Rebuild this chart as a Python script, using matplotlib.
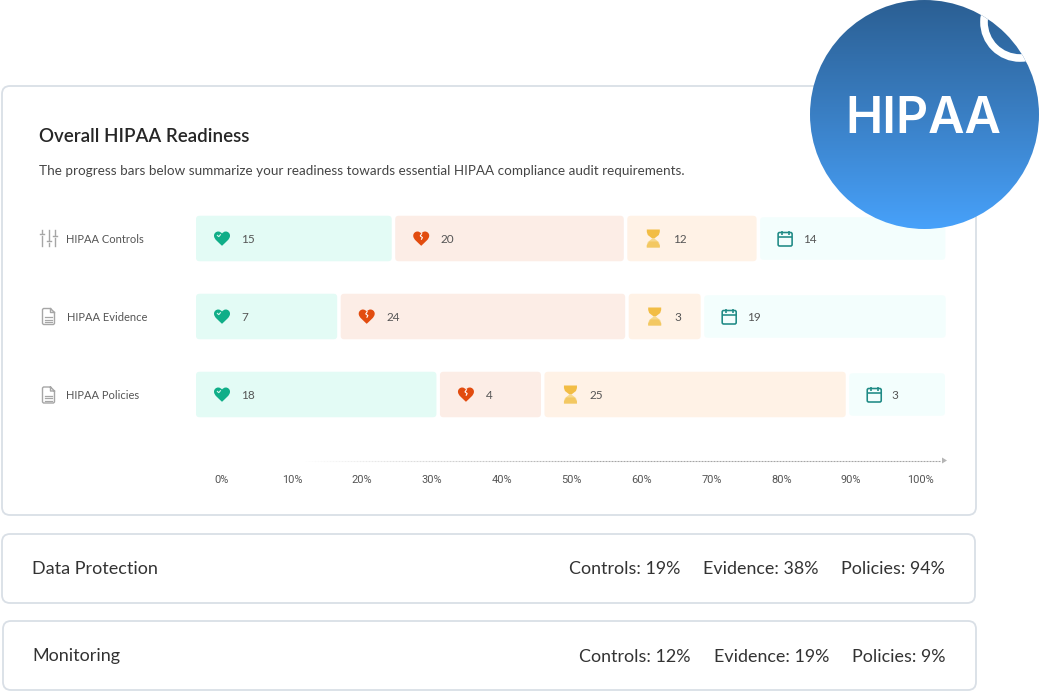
import numpy as np
import matplotlib
matplotlib.use("Agg")
import matplotlib.pyplot as plt
from matplotlib.patches import FancyBboxPatch, PathPatch, Circle
from matplotlib.path import Path
from matplotlib.transforms import Affine2D, ScaledTranslation
from matplotlib.colors import LinearSegmentedColormap

plt.rcParams["font.family"] = ["Lato", "DejaVu Sans"]

# ---- data ----
categories = ["HIPAA Controls", "HIPAA Evidence", "HIPAA Policies"]
counts_healthy = [15, 7, 18]
counts_broken = [20, 24, 4]
counts_pending = [12, 3, 25]
counts_scheduled = [14, 19, 3]
# Segment lengths as drawn, in axis percent units
widths_healthy = [28.0, 20.2, 34.4]
widths_broken = [32.7, 40.7, 14.45]
widths_pending = [18.5, 10.3, 43.1]
widths_scheduled = [26.5, 34.55, 13.7]
x_ticks = [0, 10, 20, 30, 40, 50, 60, 70, 80, 90, 100]
x_tick_labels = [f"{t}%" for t in x_ticks]
summary_names = ["Data Protection", "Monitoring"]
summary_controls = [19, 12]
summary_evidence = [38, 19]
summary_policies = [94, 9]

W, H = 1039, 691
fig = plt.figure(figsize=(W / 100, H / 100), dpi=100, facecolor="white")

# ---- background layer in pixel coordinates ----
bg = fig.add_axes([0, 0, 1, 1], zorder=0)
bg.set_xlim(0, W); bg.set_ylim(H, 0); bg.axis("off")

CARD_EDGE = "#d9dfe6"
def card(x0, y0, x1, y1):
    bg.add_patch(FancyBboxPatch((x0, y0), x1 - x0, y1 - y0,
                                boxstyle="round,pad=0,rounding_size=8",
                                fc="white", ec=CARD_EDGE, lw=1.3))
card(2, 86, 976, 515)
card(2, 534, 975, 603)
card(3, 621, 976, 690)

bg.text(39, 136, "Overall HIPAA Readiness", fontsize=13.5, color="#262626",
        va="center", ha="left", fontweight="semibold")
bg.text(39, 170.5, "The progress bars below summarize your readiness towards "
        "essential HIPAA compliance audit requirements.",
        fontsize=9.73, color="#454545", va="center", ha="left")

DARK = "#333333"
rows = [
    (31.5, 569, 703, 841, 574.5),
    (32.5, 579, 714, 852, 661.5),
]
for i, (xn, xc, xe, xp, yb) in enumerate(rows):
    bg.text(xn, yb, summary_names[i], fontsize=13.0, color=DARK, va="baseline")
    bg.text(xc, yb, f"Controls: {summary_controls[i]}%", fontsize=12.9, color=DARK, va="baseline")
    bg.text(xe, yb, f"Evidence: {summary_evidence[i]}%", fontsize=12.9, color=DARK, va="baseline")
    bg.text(xp, yb, f"Policies: {summary_policies[i]}%", fontsize=12.9, color=DARK, va="baseline")

# fading dotted arrow
xs = np.arange(305, 943, 3.0)
for a, b in zip(xs[:-1], xs[1:]):
    alpha = min(1.0, (a - 300) / 300)
    bg.plot([a, a + 1.5], [460.5, 460.5], color="#a5a5a5", lw=0.8, alpha=alpha,
            solid_capstyle="butt")
bg.add_patch(plt.Polygon([[942, 457.5], [947, 460.5], [942, 463.5]], fc="#b5b5b5", ec="none"))

# ---- main chart axes: 0% at x=222 px, 100% at x=921 px ----
L, R, T, B = 222, 921, 200, 461
ax = fig.add_axes([L / W, 1 - B / H, (R - L) / W, (B - T) / H], zorder=1)
ax.patch.set_alpha(0)
PX_X = (R - L) / 100
ROW_PX = 78
ax.set_xlim(0, 100)
ax.set_ylim((B - 238.5) / ROW_PX, (T - 238.5) / ROW_PX)
for s in ax.spines.values():
    s.set_visible(False)
ax.set_xticks(x_ticks, x_tick_labels, fontsize=7.9, color="#555555", family="Roboto")
ax.tick_params(axis="x", length=0, pad=10.2)
ax.set_yticks(range(len(categories)), categories, fontsize=8.05, color="#555555", ha="left")
ax.tick_params(axis="y", length=0, pad=(L - 66) * 0.72)
lab = ax.get_yticklabels()[1]
lab.set_transform(lab.get_transform() + ScaledTranslation(1 / 100, 0, fig.dpi_scale_trans))

START = (196 - L) / PX_X
GAP = 3.5 / PX_X
RADIUS = 3.5 / PX_X


def heart_path():
    v = [(0, -7.3), (-3, -4.2), (-8, -1), (-8, 2.8), (-8, 5.6), (-5.6, 7), (-3.9, 7),
         (-2.1, 7), (-0.8, 6), (0, 5), (0.8, 6), (2.1, 7), (3.9, 7),
         (5.6, 7), (8, 5.6), (8, 2.8), (8, -1), (3, -4.2), (0, -7.3)]
    c = [Path.MOVETO] + [Path.CURVE4] * 18
    return Path(v, c)


def place(x, row, off):
    px, py = ax.transData.transform((x, row))
    return Affine2D().translate(px + off, py)


def add(path, tr, **kw):
    kw.setdefault("lw", 0)
    ax.add_patch(PathPatch(path, transform=tr, clip_on=False, zorder=4, **kw))


def icon_heart(x, row, off):
    tr = place(x, row, off)
    add(heart_path(), tr, fc="#10ae88", ec="none")
    add(Path([(-5, 3.5), (-3.3, 1.8), (-1.2, 4.2)]), tr, fc="none", ec="#d8f5ec", lw=0.8)


def icon_broken(x, row, off):
    tr = place(x, row, off)
    add(heart_path(), tr, fc="#e24c0f", ec="none")
    add(Path([(0.8, 5.2), (-1.0, 2.6), (1.2, 1.0), (0, -1.2)]), tr, fc="none", ec="white", lw=0.8)


def icon_glass(x, row, off):
    tr = place(x, row, off)
    top = Path([(-6.5, 9), (6.5, 9), (6.5, 6.5), (5.5, 3.5), (1, 0), (-1, 0), (-5.5, 3.5), (-6.5, 6.5), (-6.5, 9)])
    bot = Path([(-6.5, -9), (6.5, -9), (6.5, -6.5), (5.5, -3.5), (1, 0), (-1, 0), (-5.5, -3.5), (-6.5, -6.5), (-6.5, -9)])
    add(top, tr, fc="#f2bd45", ec="none")
    add(bot, tr, fc="#f6d88c", ec="none")
    add(Path([(-6.5, -7), (-4, -3), (4, -3), (6.5, -7), (6.5, -9), (-6.5, -9), (-6.5, -7)]), tr, fc="#f3c862", ec="none")


def icon_calendar(x, row, off):
    tr = place(x, row, off)
    ax.add_patch(FancyBboxPatch((-7, -7.5), 14, 13.5, boxstyle="round,pad=0,rounding_size=1.5",
                                fc="none", ec="#1f8a85", lw=1.15, transform=tr, clip_on=False, zorder=4))
    for seg in ([(-7, 2), (7, 2)], [(-3.5, 4), (-3.5, 8)], [(3.5, 4), (3.5, 8)]):
        add(Path(seg), tr, fc="none", ec="#1f8a85", lw=1.15)


series = [
    (counts_healthy, widths_healthy, "#e3fbf5", 45.5, icon_heart, 26, 46),
    (counts_broken, widths_broken, "#fcede6", 45.5, icon_broken, 26, 46),
    (counts_pending, widths_pending, "#fff2e6", 45.5, icon_glass, 26, 46),
    (counts_scheduled, widths_scheduled, "#f3fefd", 42.5, icon_calendar, 25, 43),
]
for r in range(len(categories)):
    left = START
    for counts, widths, col, h_px, icon, ioff, toff in series:
        h = h_px / ROW_PX
        ax.add_patch(FancyBboxPatch((left, r - h / 2), widths[r], h,
                                    boxstyle=f"round,pad=0,rounding_size={RADIUS}",
                                    mutation_aspect=PX_X / ROW_PX,
                                    fc=col, ec="none", clip_on=False, zorder=2))
        icon(left, r, ioff)
        ax.annotate(str(counts[r]), (left, r), xytext=((toff - 0.5) * 0.72, -0.5),
                    textcoords="offset points", fontsize=8.5, color="#555555",
                    va="center", ha="left", zorder=5, annotation_clip=False)
        left += widths[r] + GAP

# ---- foreground: row icons and the badge ----
fg = fig.add_axes([0, 0, 1, 1], zorder=2)
fg.set_xlim(0, W); fg.set_ylim(H, 0); fg.axis("off"); fg.patch.set_alpha(0)

GREY = "#a6a6a6"
for x, y0, y1, yk in [(42, 230, 246, 234), (48.5, 230, 246, 241), (55, 230, 246, 236)]:
    fg.plot([x, x], [y0, yk - 1.5], color=GREY, lw=1.0)
    fg.plot([x, x], [yk + 1.5, y1], color=GREY, lw=1.0)
    fg.plot([x - 2, x + 2], [yk, yk], color=GREY, lw=1.0)


def doc(cy):
    x0, x1, y0, y1 = 42.5, 54.5, cy - 8, cy + 8
    fg.plot([x1 - 4, x0 + 1, x0, x0, x0 + 1, x1 - 1, x1, x1, x1 - 4, x1 - 4, x1],
            [y0, y0, y0 + 1, y1 - 1, y1, y1, y1 - 1, y0 + 4, y0, y0 + 4, y0 + 4],
            color=GREY, lw=1.0)
    for yy in (cy + 0.5, cy + 3, cy + 5.5):
        fg.plot([x0 + 2.5, x1 - 2.5], [yy, yy], color=GREY, lw=0.9)


doc(316.5)
doc(395)

cmap = LinearSegmentedColormap.from_list("badge", ["#2b5f93", "#3a7fc4", "#47a1fa"])
grad = np.linspace(0, 1, 256).reshape(-1, 1)
im = fg.imshow(grad, extent=(810, 1039, 229, 0), aspect="auto", cmap=cmap, zorder=5)
fg.set_xlim(0, W); fg.set_ylim(H, 0)
big = Circle((924.5, 114.5), 114.5, transform=fg.transData)
im.set_clip_path(big)
ring = Circle((1020, 22), 36, fc="none", ec="white", lw=5.5, zorder=6)
fg.add_patch(ring)
ring.set_clip_path(big)
fg.text(923.5, 114.5, "HIPAA", color="white", fontsize=36, fontweight="semibold",
        family="Inter", ha="center", va="center_baseline", zorder=7)

fig.savefig("out.png", dpi=100)
